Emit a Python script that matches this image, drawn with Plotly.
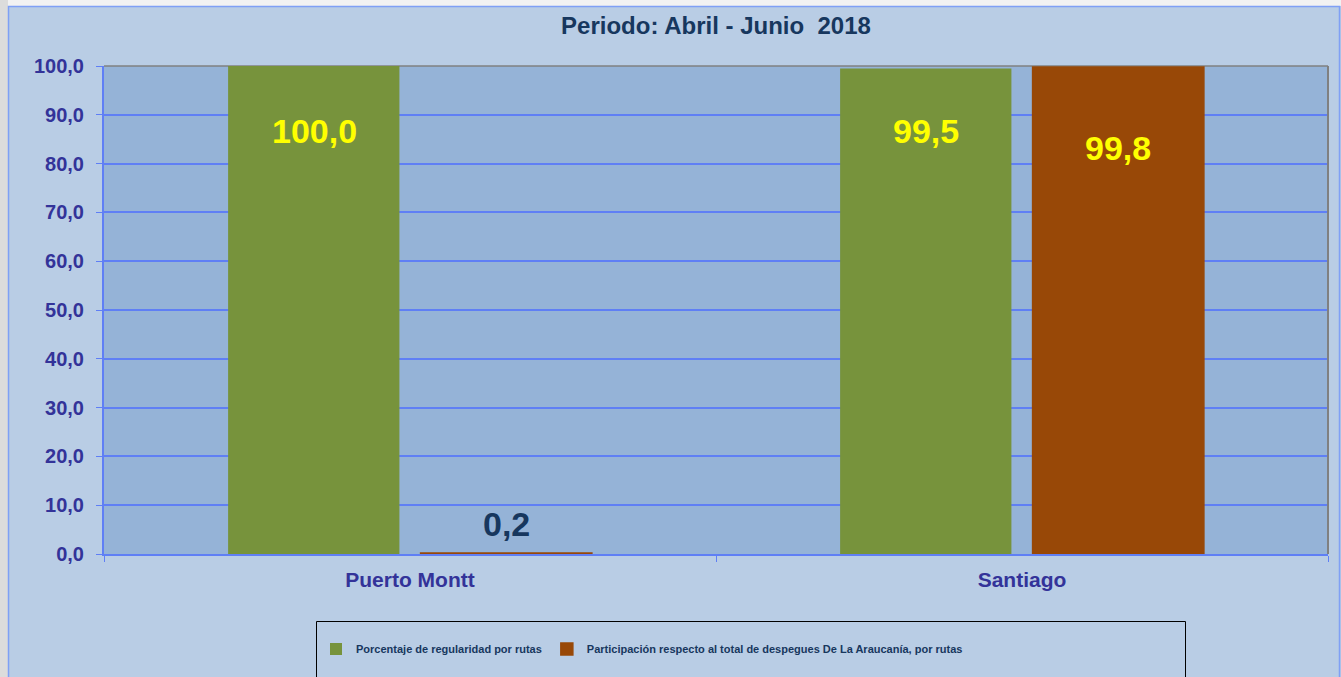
import plotly.graph_objects as go

categories = ["Puerto Montt", "Santiago"]
regularidad = [100.0, 99.5]
participacion = [0.2, 99.8]
series_names = [
    "Porcentaje de regularidad por rutas",
    "Participación respecto al total de despegues De La Araucanía, por rutas",
]
title_text = "Periodo: Abril - Junio\u00a0\u00a02018"
y_ticks = [0, 10, 20, 30, 40, 50, 60, 70, 80, 90, 100]

W, H = 1341, 677
L, R, T, B = 104, 1328, 66, 554  # plot area pixels


def px(x):
    return (x - L) / (R - L)


def py(y):
    return (B - y) / (B - T)


GREEN = "#77933C"
BROWN = "#984807"
AXIS_BLUE = "#5F7FF5"
TICK_COL = "#333399"
NAVY = "#17375E"

fig = go.Figure()
fig.add_trace(go.Bar(x=categories, y=regularidad, name=series_names[0],
                     marker=dict(color=GREEN, line=dict(width=0))))
fig.add_trace(go.Bar(x=categories, y=participacion, name=series_names[1],
                     marker=dict(color=BROWN, line=dict(width=1.5, color=BROWN))))

# data labels
label_style = [
    # (series values, x shift, y shifts, colour)
    (regularidad, -96, [-65, -63], "#FFFF00"),
    (participacion, 96, [29, -81], "#FFFF00"),
]
for vals, xs, yss, col in label_style:
    for c, v, ys in zip(categories, vals, yss):
        colr = col if v > 10 else NAVY
        fig.add_annotation(x=c, y=v, xref="x", yref="y", xshift=xs, yshift=ys,
                           text=f"{v:.1f}".replace(".", ","), showarrow=False,
                           font=dict(family="Liberation Sans, Arial", size=34,
                                     color=colr, weight="bold"))

shapes = [
    # outer grey strips
    dict(type="rect", xref="paper", yref="paper", x0=px(0), x1=px(W), y0=py(0), y1=py(6),
         fillcolor="#F2F2F2", line=dict(width=0), layer="above"),
    dict(type="rect", xref="paper", yref="paper", x0=px(0), x1=px(8), y0=py(0), y1=py(H),
         fillcolor="#DCDCDC", line=dict(width=0), layer="above"),
    # chart border
    dict(type="rect", xref="paper", yref="paper", x0=px(8.5), x1=px(1339.5), y0=py(6.5), y1=py(H + 10),
         line=dict(color="#7FA0F5", width=1.5), fillcolor="rgba(0,0,0,0)", layer="above"),
    # plot area border (top/right grey)
    dict(type="line", xref="paper", yref="paper", x0=0, x1=1, y0=1, y1=1,
         line=dict(color="#808080", width=1.5), layer="below"),
    dict(type="line", xref="paper", yref="paper", x0=1, x1=1, y0=0, y1=1,
         line=dict(color="#808080", width=2), layer="above"),
    # legend box
    dict(type="rect", xref="paper", yref="paper", x0=px(316.5), x1=px(1185.5), y0=py(621.5), y1=py(H + 10),
         line=dict(color="#000000", width=1), fillcolor="rgba(0,0,0,0)", layer="above"),
]

fig.update_layout(
    width=W, height=H,
    margin=dict(l=L, r=W - R, t=T, b=H - B, pad=0),
    paper_bgcolor="#B9CDE5",
    plot_bgcolor="#95B3D7",
    separators=",.",
    barmode="group",
    bargap=0.371,
    bargroupgap=0.11,
    font=dict(family="Liberation Sans, Arial", color=TICK_COL),
    title=dict(text=title_text, x=0.5, xref="paper", xanchor="center",
               y=1 - 26 / H, yref="container", yanchor="middle",
               font=dict(size=24, color=NAVY, weight="bold")),
    showlegend=True,
    legend=dict(orientation="h", x=px(316), xanchor="left", y=py(649), yanchor="middle",
                bgcolor="rgba(0,0,0,0)", borderwidth=0,
                font=dict(family="Liberation Sans Narrow, Arial Narrow, Liberation Sans",
                          size=11, color=NAVY, weight="bold"),
                itemwidth=30, traceorder="normal"),
    shapes=shapes,
    xaxis=dict(showgrid=False, showline=True, linecolor=AXIS_BLUE, linewidth=2,
               ticks="outside", tickson="boundaries", ticklen=6, tickcolor=AXIS_BLUE,
               tickfont=dict(size=21, color=TICK_COL, weight="bold"),
               ticklabelstandoff=6),
    yaxis=dict(range=[0, 100], tickvals=y_ticks, tickformat=".1f",
               showgrid=True, gridcolor=AXIS_BLUE, gridwidth=1.5,
               showline=True, linecolor=AXIS_BLUE, linewidth=2, zeroline=False,
               ticks="outside", ticklen=6, tickcolor=AXIS_BLUE,
               tickfont=dict(size=20, color=TICK_COL, weight="bold"),
               ticklabelstandoff=8),
)

fig.write_html("out.html")
